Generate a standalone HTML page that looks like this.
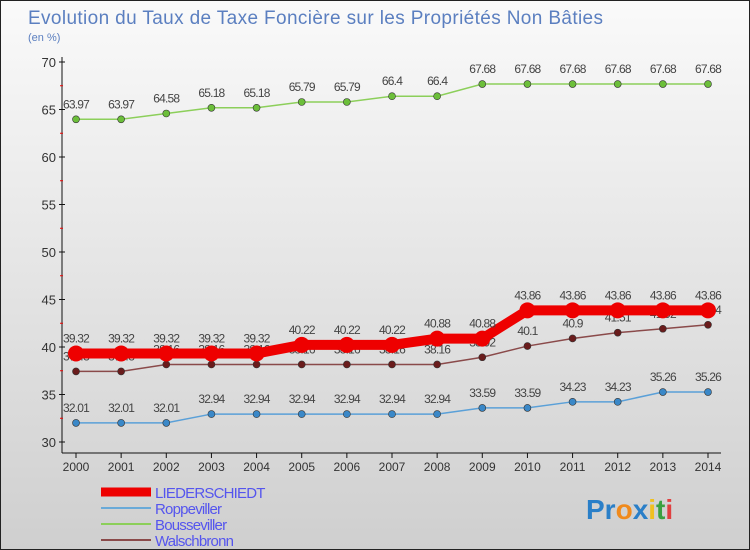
<!DOCTYPE html>
<html><head><meta charset="utf-8"><style>
body{margin:0}
#c{width:750px;height:550px;position:relative;background:linear-gradient(#fafafa,#cfcfcf);box-sizing:border-box;border:1px solid #222;font-family:"Liberation Sans",sans-serif;overflow:hidden}
text{font-family:"Liberation Sans",sans-serif}
</style></head><body>
<div id="c">
<svg id="s" width="750" height="550">
<text x="27" y="23" font-size="19" fill="#5b7fc0" textLength="575">Evolution du Taux de Taxe Foncière sur les Propriétés Non Bâties</text>
<text x="27" y="40" font-size="11" fill="#5b7fc0">(en %)</text>
<text x="585" y="518" font-size="28" font-weight="bold"><tspan fill="#2a7fc8">Pr</tspan><tspan fill="#f08a1c">o</tspan><tspan fill="#2a7fc8">x</tspan><tspan fill="#f0c020">i</tspan><tspan fill="#3aa040">t</tspan><tspan fill="#e04040">i</tspan></text>
</svg>
</div>
<script>
const years=["2000","2001","2002","2003","2004","2005","2006","2007","2008","2009","2010","2011","2012","2013","2014"];
const yTicks=[30,35,40,45,50,55,60,65,70];
const liederschiedt=[39.32,39.32,39.32,39.32,39.32,40.22,40.22,40.22,40.88,40.88,43.86,43.86,43.86,43.86,43.86];
const roppeviller=[32.01,32.01,32.01,32.94,32.94,32.94,32.94,32.94,32.94,33.59,33.59,34.23,34.23,35.26,35.26];
const bousseviller=[63.97,63.97,64.58,65.18,65.18,65.79,65.79,66.4,66.4,67.68,67.68,67.68,67.68,67.68,67.68];
const walschbronn=[37.43,37.43,38.16,38.16,38.16,38.16,38.16,38.16,38.16,38.92,40.1,40.9,41.51,41.92,42.34];
const NS="http://www.w3.org/2000/svg",s=document.getElementById('s');
const X=i=>75+i*(707-75)/(years.length-1);
const Y=v=>441-(v-30)*9.5;
function el(t,a,p){const e=document.createElementNS(NS,t);for(const k in a)e.setAttribute(k,a[k]);(p||s).appendChild(e);return e;}
let e;
e=el('line',{x1:61,y1:56,x2:61,y2:452,stroke:'#111'});


e=el('line',{x1:61,y1:452,x2:720,y2:452,stroke:'#111'});


yTicks.forEach((v,i)=>{
 e=el('text',{x:55,y:Y(v)+5,'font-size':13,fill:'#333','text-anchor':'end'});e.textContent=v;
 
 
 el('line',{x1:58,x2:64,y1:Y(v),y2:Y(v),stroke:'#111'});
 if(i<yTicks.length-1){el('line',{x1:59,x2:62,y1:Y(v+2.5),y2:Y(v+2.5),stroke:'#e00'});}
});
years.forEach((y,i)=>{
 el('line',{x1:X(i),x2:X(i),y1:452,y2:457,stroke:'#111'});
 e=el('text',{x:X(i),y:470,'font-size':12,fill:'#333','text-anchor':'middle'});e.textContent=y;
 
 
});
const series=[
 {n:'bousseviller',d:bousseviller,c:'#8ccf5a',f:'#6cbf3a',w:1.5,r:3.5},
 {n:'walschbronn',d:walschbronn,c:'#8a4a4a',f:'#6a1c1c',w:1.5,r:3.5},
 {n:'roppeviller',d:roppeviller,c:'#5aa0d8',f:'#3a88c8',w:1.5,r:3.5},
 {n:'liederschiedt',d:liederschiedt,c:'#ee0000',f:'#ee0000',w:10,r:8}
];
series.forEach(o=>{
 e=el('polyline',{points:o.d.map((v,i)=>X(i)+','+Y(v)).join(' '),fill:'none',stroke:o.c,'stroke-width':o.w});
 
 
 o.d.forEach((v,i)=>{
  e=el('circle',{cx:X(i),cy:Y(v),r:o.r,fill:o.f,stroke:'#333','stroke-width':o.w>5?0:0.6});
  
  
  e=el('text',{x:X(i),y:Y(v)-11,'font-size':12,fill:'#444','text-anchor':'middle','letter-spacing':'-0.8'});e.textContent=v;
  
  
 });
});
const leg=[['LIEDERSCHIEDT','#ee0000',9],['Roppeviller','#6aaad8',2],['Bousseviller','#8ccf5a',2],['Walschbronn','#8a4a4a',2]];
leg.forEach((l,i)=>{
 const y=491+i*16;
 e=el('line',{x1:100,x2:150,y1:y,y2:y,stroke:l[1],'stroke-width':l[2]});
 
 
 e=el('text',{x:154,y:y+6,'font-size':15,fill:'#5555ee','letter-spacing':'-0.8'});e.textContent=l[0];
 
 
});
</script>
</body></html>
